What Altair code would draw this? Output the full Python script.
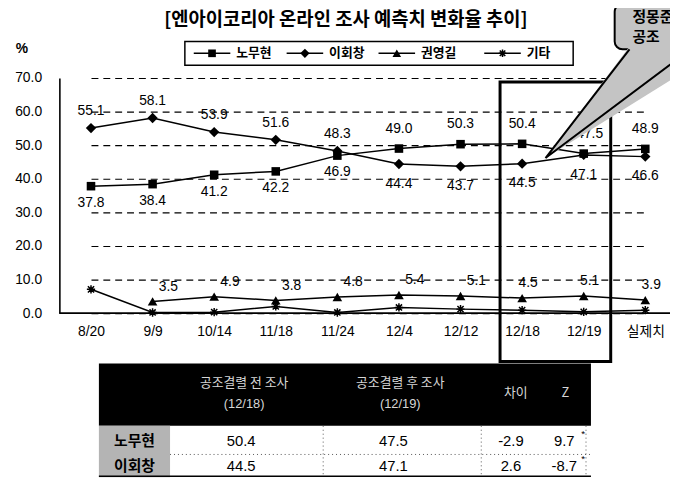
import altair as alt
import pandas as pd

# ---------------- data ----------------
dates = ["8/20", "9/9", "10/14", "11/18", "11/24", "12/4", "12/12", "12/18", "12/19", "실제치"]
series_names = ["노무현", "이회창", "권영길", "기타"]
roh = [37.8, 38.4, 41.2, 42.2, 46.9, 49.0, 50.3, 50.4, 47.5, 48.9]
lee = [55.1, 58.1, 53.9, 51.6, 48.3, 44.4, 43.7, 44.5, 47.1, 46.6]
kwon = [None, 3.5, 4.9, 3.8, 4.8, 5.4, 5.1, 4.5, 5.1, 3.9]
other = [7.1, 0.2, 0.3, 2.0, 0.2, 1.7, 1.2, 0.9, 0.4, 0.9]

title_txt = "[엔아이코리아 온라인 조사 예측치 변화율 추이]"
callout_lines = ["정몽준", "공조"]

table_rows = ["노무현", "이회창"]
table_head1 = ["공조결렬 전 조사", "공조결렬 후 조사", "차이", "Z"]
table_head2 = ["(12/18)", "(12/19)", "", ""]
table_before = ["50.4", "44.5"]
table_after = ["47.5", "47.1"]
table_diff = ["-2.9", "2.6"]
table_z = ["9.7", "-8.7"]

recs = []
for name, vals in zip(series_names, [roh, lee, kwon, other]):
    for i, (d, v) in enumerate(zip(dates, vals)):
        if v is not None:
            recs.append({"date": d, "series": name, "value": v, "idx": i})
df = pd.DataFrame(recs)

# ---------------- layout ----------------
W, H = 618, 238
OX, OY = 60, 76  # page position of plot origin


def px(x):
    return x - OX


def py(y):
    return y - OY


FONT_NUM = "Liberation Sans, Noto Sans CJK KR"
FONT_KR = "Noto Sans CJK KR"

x_enc = alt.X(
    "date:N", sort=dates,
    scale=alt.Scale(type="point", domain=dates, range=[32, 593], padding=0),
    axis=alt.Axis(title=None, labelAngle=0, ticks=False, domain=False, grid=False,
                  labelPadding=12, labelFontSize=14, labelFont=FONT_NUM,
                  labelColor="black"),
)
y_enc = alt.Y(
    "value:Q",
    scale=alt.Scale(domain=[0, 70], nice=False),
    axis=alt.Axis(title=None, values=[0, 10, 20, 30, 40, 50, 60, 70], format=".1f",
                  grid=True, gridDash=[7, 5], gridColor="black", gridWidth=1.2,
                  gridOpacity=1, domainColor="black", domainWidth=1.6, ticks=False,
                  labelPadding=18, labelFontSize=14, labelFont=FONT_NUM,
                  labelColor="black"),
)

base = alt.Chart(df).encode(x=x_enc, y=y_enc)

layers = []

# x-axis line
one = pd.DataFrame({"a": [0]})
layers.append(alt.Chart(one).mark_rule(color="black", strokeWidth=1.6).encode(
    x=alt.value(0), x2=alt.value(W), y=alt.value(H)))

lines = base.mark_line(color="black", strokeWidth=1.5).encode(detail="series:N")
layers.append(lines)

ast_path = "M-1,0L1,0M0,-1L0,1M-0.75,-0.75L0.75,0.75M-0.75,0.75L0.75,-0.75"
shape_info = {
    "노무현": ("square", 75, True),
    "이회창": ("diamond", 110, True),
    "권영길": ("triangle-up", 95, True),
    "기타": (ast_path, 70, False),
}
for s in series_names:
    shp, sz, filled = shape_info[s]
    layers.append(
        base.transform_filter(f"datum.series == '{s}'").mark_point(
            shape=shp, size=sz, filled=filled, color="black", opacity=1,
            strokeWidth=1.5)
    )

lab_style = dict(fontSize=14, font=FONT_NUM, color="black")
label_groups = [
    ("(datum.series == '노무현' && datum.idx < 5)", 0, 17),
    ("(datum.series == '노무현' && datum.idx >= 5 && datum.idx != 8)", 0, -20),
    ("(datum.series == '노무현' && datum.idx == 8)", 6, -20),
    ("(datum.series == '이회창' && datum.idx < 5)", 0, -17),
    ("(datum.series == '이회창' && datum.idx >= 5)", 0, 20),
    ("(datum.series == '권영길' && datum.idx <= 6)", 16, -15),
    ("(datum.series == '권영길' && datum.idx > 6)", 6, -15),
]
for flt, dx, dy in label_groups:
    layers.append(
        base.transform_filter(flt).mark_text(dx=dx, dy=dy, **lab_style).encode(
            text=alt.Text("value:Q", format=".1f"))
    )

# highlight box
layers.append(alt.Chart(one).mark_rect(fillOpacity=0, stroke="black", strokeWidth=3).encode(
    x=alt.value(px(506)), x2=alt.value(px(618)), y=alt.value(py(80)), y2=alt.value(py(363))))

# title and % unit
layers.append(alt.Chart(pd.DataFrame({"t": [title_txt]})).mark_text(
    fontSize=19, fontWeight="bold", font=FONT_KR, color="black", baseline="middle").encode(
    text="t:N", x=alt.value(px(350)), y=alt.value(py(17))))
layers.append(alt.Chart(pd.DataFrame({"t": ["%"]})).mark_text(
    fontSize=14, fontWeight="bold", font=FONT_NUM, color="black", baseline="middle").encode(
    text="t:N", x=alt.value(px(22)), y=alt.value(py(47))))

# custom legend
layers.append(alt.Chart(one).mark_rect(fillOpacity=0, stroke="black", strokeWidth=1.5).encode(
    x=alt.value(px(187)), x2=alt.value(px(580)), y=alt.value(py(39)), y2=alt.value(py(63))))
leg_x = [196, 290, 383, 490]
LY = py(51)
for s, lx in zip(series_names, leg_x):
    shp, sz, filled = shape_info[s]
    layers.append(alt.Chart(one).mark_rule(color="black", strokeWidth=1.5).encode(
        x=alt.value(px(lx)), x2=alt.value(px(lx + 37)), y=alt.value(LY)))
    layers.append(alt.Chart(one).mark_point(shape=shp, size=sz * 0.8, filled=filled,
                                           color="black", opacity=1, strokeWidth=1.5).encode(
        x=alt.value(px(lx + 18.5)), y=alt.value(LY)))
    layers.append(alt.Chart(pd.DataFrame({"t": [s]})).mark_text(
        fontSize=13, fontWeight="bold", font=FONT_KR, color="black", align="left",
        baseline="middle").encode(text="t:N", x=alt.value(px(lx + 43)), y=alt.value(LY)))

# ---------------- table ----------------
T_L, T_R = 100, 598
H_TOP, H_BOT = 365, 428
R_MID, R_BOT = 457, 480
layers.append(alt.Chart(one).mark_rect(color="black").encode(
    x=alt.value(px(T_L)), x2=alt.value(px(T_R)), y=alt.value(py(H_TOP)), y2=alt.value(py(H_BOT))))
layers.append(alt.Chart(one).mark_rect(color="#b4b4b4").encode(
    x=alt.value(px(T_L)), x2=alt.value(px(172)), y=alt.value(py(H_BOT)), y2=alt.value(py(R_BOT))))
layers.append(alt.Chart(one).mark_rule(color="#555555", strokeWidth=1, strokeDash=[1, 3]).encode(
    x=alt.value(px(172)), x2=alt.value(px(T_R)), y=alt.value(py(R_MID))))
for vx in [327, 487, 593]:
    layers.append(alt.Chart(one).mark_rule(color="#555555", strokeWidth=1, strokeDash=[1, 3]).encode(
        x=alt.value(px(vx)), y=alt.value(py(H_BOT)), y2=alt.value(py(R_BOT))))
layers.append(alt.Chart(one).mark_rule(color="black", strokeWidth=1.5).encode(
    x=alt.value(px(T_L)), x2=alt.value(px(T_R)), y=alt.value(py(R_BOT - 1))))

head_x = [247, 405, 522, 572]
for h1, h2, hx in zip(table_head1, table_head2, head_x):
    if h2:
        layers.append(alt.Chart(pd.DataFrame({"t": [h1]})).mark_text(
            fontSize=13, font=FONT_KR, color="#d6d6d6", baseline="middle").encode(
            text="t:N", x=alt.value(px(hx)), y=alt.value(py(385))))
        layers.append(alt.Chart(pd.DataFrame({"t": [h2]})).mark_text(
            fontSize=13, font=FONT_NUM, color="#d6d6d6", baseline="middle").encode(
            text="t:N", x=alt.value(px(hx)), y=alt.value(py(406))))
    else:
        layers.append(alt.Chart(pd.DataFrame({"t": [h1]})).mark_text(
            fontSize=13, font=FONT_KR, color="#d6d6d6", baseline="middle").encode(
            text="t:N", x=alt.value(px(hx)), y=alt.value(py(395))))

row_y = [443, 469]
col_x = [244, 398, 517, 571]
for r, ry in enumerate(row_y):
    layers.append(alt.Chart(pd.DataFrame({"t": [table_rows[r]]})).mark_text(
        fontSize=15, fontWeight="bold", font=FONT_KR, color="black", baseline="middle").encode(
        text="t:N", x=alt.value(px(136)), y=alt.value(py(ry))))
    for vals, cx in zip([table_before, table_after, table_diff, table_z], col_x):
        layers.append(alt.Chart(pd.DataFrame({"t": [vals[r]]})).mark_text(
            fontSize=15, font=FONT_NUM, color="black", baseline="middle").encode(
            text="t:N", x=alt.value(px(cx)), y=alt.value(py(ry))))
    layers.append(alt.Chart(pd.DataFrame({"t": ["*"]})).mark_text(
        fontSize=10, font=FONT_NUM, color="black", baseline="middle").encode(
        text="t:N", x=alt.value(px(590)), y=alt.value(py(ry - 7))))

# ---------------- callout ----------------
layers.append(alt.Chart(one).mark_rect(fill="#c4c4c4", stroke="black", strokeWidth=2,
                                       cornerRadius=8).encode(
    x=alt.value(px(622)), x2=alt.value(px(720)), y=alt.value(py(1)), y2=alt.value(py(47))))
TIPX, TIPY = px(552), py(157)
layers.append(alt.Chart(one).mark_point(shape="M0,0L85,-113L170,-113L170,-106Z", size=4,
                                        filled=True, color="#c4c4c4", opacity=1,
                                        strokeWidth=0).encode(
    x=alt.value(TIPX), y=alt.value(TIPY)))
layers.append(alt.Chart(one).mark_point(shape="M0,0L85,-110M0,0L140,-105", size=4,
                                        filled=False, color="black", opacity=1,
                                        strokeWidth=2).encode(
    x=alt.value(TIPX), y=alt.value(TIPY)))
for ln, ly in zip(callout_lines, [14, 35]):
    layers.append(alt.Chart(pd.DataFrame({"t": [ln]})).mark_text(
        fontSize=15, fontWeight="bold", font=FONT_KR, color="black", align="left",
        baseline="middle").encode(text="t:N", x=alt.value(px(640)), y=alt.value(py(ly))))

chart = alt.layer(*layers).properties(
    width=W, height=H,
    autosize=alt.AutoSizeParams(type="none"),
    padding={"left": 52, "top": 68, "right": 0, "bottom": 166},
    background="white",
).configure_view(stroke=None)

chart.save("out.html", embed_options={"renderer": "svg", "actions": False})
